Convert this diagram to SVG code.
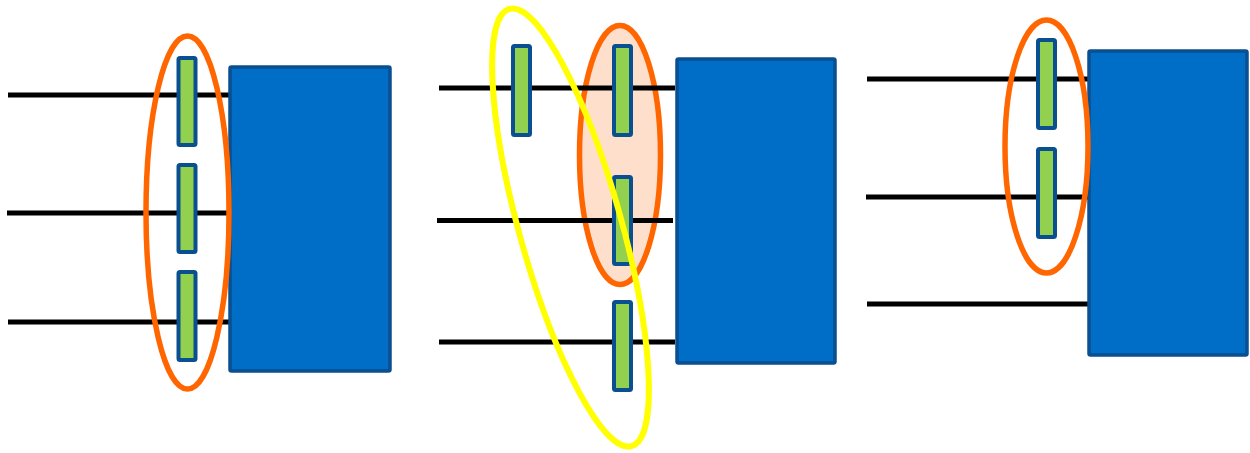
<svg xmlns="http://www.w3.org/2000/svg" width="1250" height="453" viewBox="0 0 1250 453">
  <style>
    .wire { stroke: #000000; stroke-width: 5; fill: none; }
    .block { fill: #006DC6; stroke: #0A4F8F; stroke-width: 3.5; }
    .cell { fill: #92D050; stroke: #0A4F8F; stroke-width: 4; }
    .ring { fill: none; stroke: #FF6600; stroke-width: 5.5; }
    .ring-filled { fill: #FDDFCC; stroke: #FF6600; stroke-width: 5.5; }
    .halo { fill: none; stroke: #FFFF00; stroke-width: 6; }
  </style>
  <rect width="1250" height="453" fill="#ffffff"/>

  <!-- left group -->
  <g id="connectors-left">
    <line class="wire" x1="8" y1="95" x2="230" y2="95"/>
    <line class="wire" x1="7" y1="213" x2="228" y2="213"/>
    <line class="wire" x1="8" y1="322" x2="230" y2="322"/>
  </g>
  <g id="block-left"><rect class="block" x="230" y="67" width="160" height="304" rx="1.5"/></g>
  <g id="cell-left-1"><rect class="cell" x="178.5" y="58" width="17" height="87" rx="1.5"/></g>
  <g id="cell-left-2"><rect class="cell" x="178.5" y="165" width="17" height="87" rx="1.5"/></g>
  <g id="cell-left-3"><rect class="cell" x="178.5" y="272" width="17" height="88" rx="1.5"/></g>
  <g id="ring-left"><ellipse class="ring" cx="187.5" cy="212.5" rx="41.5" ry="176.5"/></g>

  <!-- middle group -->
  <g id="ring-middle"><ellipse class="ring-filled" cx="620" cy="155" rx="40.5" ry="129.5"/></g>
  <g id="connectors-middle">
    <line class="wire" x1="439" y1="88" x2="675" y2="88"/>
    <line class="wire" x1="437" y1="220.5" x2="673" y2="220.5"/>
    <line class="wire" x1="439" y1="342" x2="675" y2="342"/>
  </g>
  <g id="block-middle"><rect class="block" x="677" y="59" width="158" height="304" rx="1.5"/></g>
  <g id="cell-middle-1"><rect class="cell" x="513" y="46" width="17" height="89" rx="1.5"/></g>
  <g id="cell-middle-2"><rect class="cell" x="614" y="46" width="17" height="89" rx="1.5"/></g>
  <g id="cell-middle-3"><rect class="cell" x="614" y="177" width="17" height="87" rx="1.5"/></g>
  <g id="cell-middle-4"><rect class="cell" x="614" y="302" width="17" height="88" rx="1.5"/></g>
  <g id="halo-middle"><ellipse class="halo" cx="570.5" cy="227.5" rx="51" ry="227" transform="rotate(-15.6 570.5 227.5)"/></g>

  <!-- right group -->
  <g id="connectors-right">
    <line class="wire" x1="867" y1="79" x2="1089" y2="79"/>
    <line class="wire" x1="866" y1="197" x2="1088" y2="197"/>
    <line class="wire" x1="867" y1="304" x2="1089" y2="304"/>
  </g>
  <g id="block-right"><rect class="block" x="1089" y="51" width="158" height="304" rx="1.5"/></g>
  <g id="cell-right-1"><rect class="cell" x="1038" y="40" width="17" height="88" rx="1.5"/></g>
  <g id="cell-right-2"><rect class="cell" x="1038" y="149" width="17" height="88" rx="1.5"/></g>
  <g id="ring-right"><ellipse class="ring" cx="1046.5" cy="146.5" rx="41.5" ry="126.5"/></g>
</svg>
